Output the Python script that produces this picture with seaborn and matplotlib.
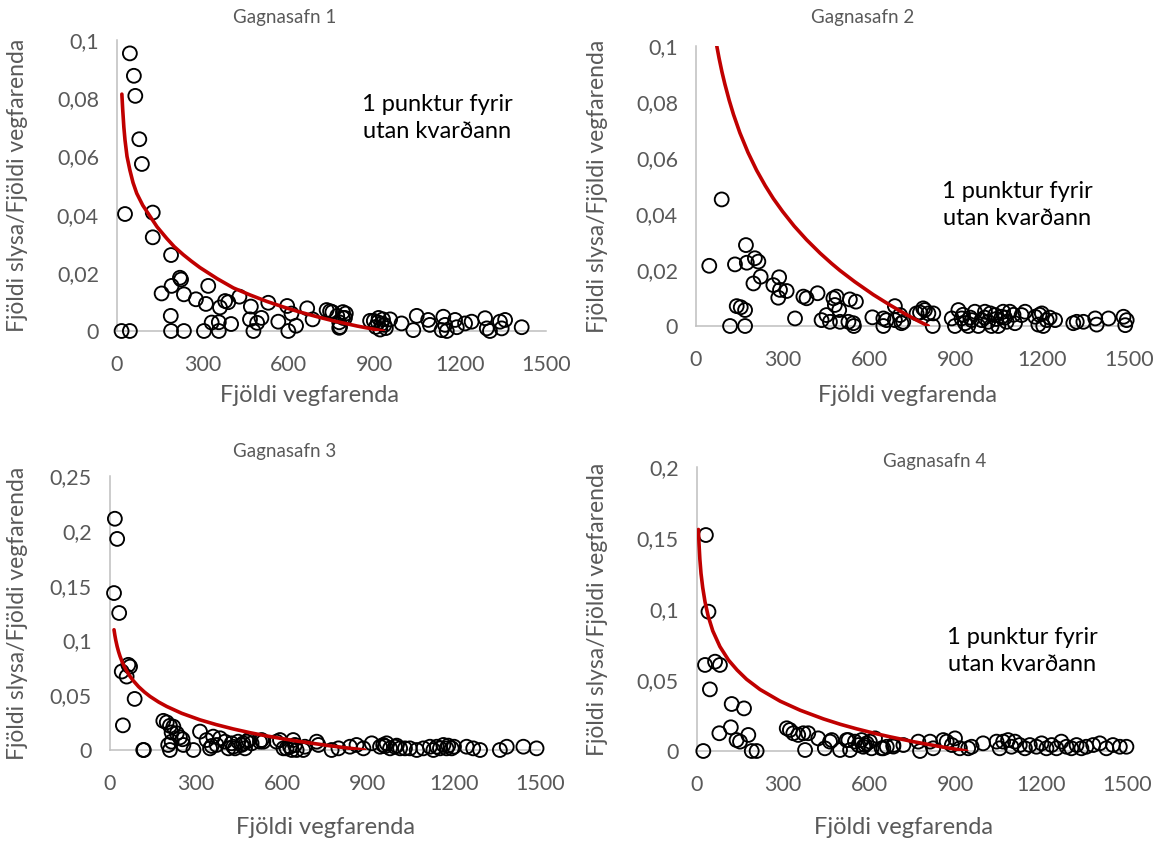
import numpy as np
import pandas as pd
import matplotlib
matplotlib.use("Agg")
import matplotlib.pyplot as plt
import seaborn as sns

# ---------------- data ----------------
x1 = [45, 59, 64, 78, 87, 28, 125, 125, 189, 220, 224, 191, 156, 234, 319, 276, 311, 378, 389, 428,
      360, 468, 529, 595, 665, 733, 188, 331, 356, 399, 465, 490, 505, 564, 626, 684, 777, 790, 800,
      16, 45, 189, 234, 304, 356, 477, 599, 777, 745, 770, 610,
      753, 790, 797, 780, 885, 898, 912, 905, 920, 935, 955, 995, 1048, 1036, 1088, 1094, 1141, 1147,
      1153, 1135, 1182, 1188, 1217, 1240, 1287, 1293, 1304, 1339, 1345, 1357, 1415, 925, 930, 915, 940]
y1 = [0.0954, 0.0877, 0.0808, 0.0659, 0.0574, 0.0402, 0.0407, 0.0322, 0.0261, 0.0183, 0.0177, 0.0155,
      0.0129, 0.0126, 0.0155, 0.0109, 0.0093, 0.0103, 0.0099, 0.0118, 0.0081, 0.0084, 0.0097, 0.0086,
      0.0078, 0.0072, 0.0052, 0.0029, 0.0030, 0.0024, 0.0040, 0.0028, 0.0045, 0.0032, 0.0018, 0.0040,
      0.0030, 0.0045, 0.0060, 0, 0, 0, 0, 0, 0, 0, 0, 0.0011, 0.0068, 0.0052, 0.0060,
      0.0065, 0.0065, 0.0045, 0.0014, 0.0035, 0.0035, 0.0030, 0.0014, 0.0005, 0.0021, 0.0040, 0.0026,
      0.0052, 0.0003, 0.0038, 0.0021, 0.0049, 0.0021, 0, 0.0003, 0.0038, 0.0013, 0.0026, 0.0032,
      0.0044, 0.0009, 0, 0.0032, 0.0009, 0.0038, 0.0013, 0.0025, 0.0040, 0.0045, 0.0010]
trend1_x = [17, 20, 24, 28, 35, 45, 56, 69, 90, 115, 140, 174, 200, 232, 260, 290, 350, 407, 465,
            523, 580, 640, 700, 756, 840, 931]
trend1_y = [0.0814, 0.0760, 0.0700, 0.0656, 0.0600, 0.0553, 0.0510, 0.0473, 0.0432, 0.0395, 0.0358,
            0.0318, 0.0290, 0.0262, 0.0240, 0.0218, 0.0180, 0.0148, 0.0124, 0.0102, 0.0083, 0.0065,
            0.0049, 0.0035, 0.0017, 0.0]

x2 = [89, 46, 135, 173, 176, 204, 216, 224, 199, 268, 288, 291, 314, 285, 372, 383, 421, 141, 155, 170,
      118, 170, 343, 435, 452, 464, 476, 487, 481, 496, 499, 528, 545, 547, 533, 554, 611, 649, 660, 649,
      689, 689, 712, 707, 718, 764, 776, 787, 793, 805, 822, 820,
      886, 897, 909, 920, 932, 943, 955, 966, 978, 989, 1001, 1012, 1024, 1036, 1047, 1059, 1064, 1076,
      1087, 1105, 1128, 1140, 1175, 1186, 1198, 1203, 1215, 1244, 1307, 1319, 1342, 1383, 1388, 1429,
      1481, 1492, 1487, 925, 950, 1000, 1020, 1040, 1070, 1100, 1190, 1225]
y2 = [0.0452, 0.0215, 0.0220, 0.0289, 0.0226, 0.0242, 0.0230, 0.0176, 0.0152, 0.0146, 0.0174, 0.0129,
      0.0125, 0.0101, 0.0105, 0.0099, 0.0117, 0.0071, 0.0067, 0.0057, 0, 0, 0.0027, 0.0021, 0.0039,
      0.0015, 0.0099, 0.0105, 0.0075, 0.0057, 0.0015, 0.0015, 0.0010, 0, 0.0095, 0.0087, 0.0031, 0.0027,
      0.0021, 0, 0.0071, 0.0021, 0.0010, 0.0039, 0.0015, 0.0045, 0.0048, 0.0063, 0.0057, 0.0045, 0.0045, 0,
      0.0027, 0, 0.0057, 0.0027, 0.0010, 0, 0.0021, 0.0051, 0, 0.0021, 0.0051, 0.0015, 0, 0.0039, 0,
      0.0033, 0.0051, 0.0015, 0.0051, 0.0010, 0.0039, 0.0051, 0.0033, 0.0005, 0.0045, 0, 0.0021, 0.0021,
      0.0010, 0.0015, 0.0015, 0.0027, 0.0005, 0.0027, 0.0033, 0.0021, 0.0003, 0.0040, 0.0030, 0.0030,
      0.0045, 0.0025, 0.0030, 0.0040, 0.0040, 0.0030]
trend2_x = [72, 80, 90, 100, 115, 130, 152, 180, 210, 240, 268, 300, 340, 383, 430, 470, 499, 550,
            614, 670, 730, 770, 805]
trend2_y = [0.1000, 0.0956, 0.0907, 0.0864, 0.0806, 0.0755, 0.0690, 0.0620, 0.0556, 0.0501, 0.0455,
            0.0409, 0.0357, 0.0308, 0.0260, 0.0223, 0.0198, 0.0158, 0.0112, 0.0076, 0.0040, 0.0018, 0.0]

x3 = [17, 25, 14, 32, 64, 70, 41, 58, 86, 45, 116, 118, 186, 198, 209, 221, 215, 233, 244, 253, 256, 203,
      215, 209, 291, 314, 337, 360, 372, 349, 384, 401, 413, 424, 436, 447, 459, 471, 477, 494, 529, 581,
      605, 634, 645, 355, 430, 465, 483, 523, 535, 628,
      593, 616, 639, 651, 674, 680, 721, 727, 773, 797, 837, 860, 884, 913, 942, 953, 965, 977, 994, 1012,
      1029, 1046, 1070, 1093, 1116, 1128, 1151, 1163, 1174, 1192, 1244, 1267, 1291, 1360, 1384, 1442, 1488,
      960, 1000, 1140, 1180, 1200]
y3 = [0.211, 0.1926, 0.1432, 0.125, 0.0777, 0.0761, 0.0716, 0.067, 0.0466, 0.0225, 0, 0, 0.0266, 0.0252,
      0.0221, 0.0213, 0.0160, 0.0152, 0.0115, 0.0098, 0.0046, 0.0046, 0.0076, 0, 0, 0.0168, 0.0091, 0.0122,
      0.0046, 0.0015, 0.0107, 0.0076, 0.0015, 0.0061, 0.0015, 0.0076, 0.0046, 0.0015, 0.0076, 0.0061,
      0.0091, 0.0076, 0.0015, 0, 0.0046, 0.0037, 0.0030, 0.0061, 0.0091, 0.0076, 0.0076, 0.0030,
      0.0091, 0.0015, 0.0091, 0, 0, 0.0030, 0.0076, 0.0046, 0, 0.0015, 0.0030, 0.0046, 0.0015, 0.0061,
      0.0030, 0.0046, 0.0061, 0.0015, 0.0030, 0.0015, 0.0015, 0.0015, 0, 0.0015, 0.0030, 0, 0.0015,
      0.0046, 0.0015, 0.0015, 0.0030, 0.0015, 0, 0, 0.0030, 0.0030, 0.0015,
      0.0035, 0.0040, 0.0030, 0.0040, 0.0030]
trend3_x = [14, 17, 20, 25, 30, 35, 42, 50, 60, 70, 81, 100, 120, 140, 170, 198, 250, 314, 370, 430,
            490, 547, 600, 651, 709, 760, 826, 889]
trend3_y = [0.1097, 0.1046, 0.1003, 0.0944, 0.0896, 0.0855, 0.0807, 0.0761, 0.0713, 0.0672, 0.0633,
            0.0577, 0.0529, 0.0488, 0.0437, 0.0397, 0.0335, 0.0275, 0.0232, 0.0192, 0.0157, 0.0128,
            0.0104, 0.0082, 0.0060, 0.0041, 0.0019, 0.0]

x4 = [31, 40, 28, 63, 80, 45, 121, 164, 78, 118, 138, 150, 179, 22, 191, 208,
      313, 324, 336, 353, 371, 388, 377, 423, 446, 464, 499, 528, 534, 551, 563, 574, 580, 592, 603, 609,
      621, 644, 662, 685, 470, 522, 586,
      650, 685, 720, 772, 778, 813, 824, 859, 871, 889, 900, 917, 946, 958, 998, 1045, 1056, 1068, 1085,
      1097, 1109, 1126, 1144, 1161, 1184, 1202, 1219, 1237, 1254, 1271, 1289, 1306, 1324, 1341, 1358,
      1382, 1405, 1428, 1451, 1475, 1498]
y4 = [0.1521, 0.0981, 0.0606, 0.0629, 0.0606, 0.0434, 0.0331, 0.0300, 0.0125, 0.0167, 0.0077, 0.0066,
      0.0113, 0, 0, 0,
      0.0160, 0.0148, 0.0125, 0.0113, 0.0125, 0.0125, 0.0007, 0.0089, 0.0019, 0.0066, 0.0007, 0.0077,
      0.0007, 0.0066, 0.0042, 0.0077, 0.0030, 0.0054, 0.0066, 0.0019, 0.0089, 0.0019, 0.0030, 0.0042,
      0.0077, 0.0077, 0.0042,
      0.0019, 0.0031, 0.0042, 0.0066, 0, 0.0066, 0.0019, 0.0077, 0.0066, 0.0042, 0.0089, 0.0019, 0.0019,
      0.0030, 0.0054, 0.0066, 0.0019, 0.0066, 0.0077, 0.0030, 0.0066, 0.0042, 0.0019, 0.0042, 0.0030,
      0.0054, 0.0019, 0.0042, 0.0019, 0.0066, 0.0030, 0.0019, 0.0042, 0.0019, 0.0030, 0.0042, 0.0054,
      0.0019, 0.0042, 0.0030, 0.0030]
trend4_x = [5, 7, 10, 14, 20, 28, 39, 55, 80, 110, 140, 173, 220, 290, 360, 441, 500, 557, 620, 673,
            754, 810, 871, 941]
trend4_y = [0.156, 0.146, 0.135, 0.125, 0.115, 0.105, 0.095, 0.0846, 0.0735, 0.0640, 0.0570, 0.0505,
            0.0433, 0.0351, 0.0287, 0.0226, 0.0188, 0.0156, 0.0124, 0.0100, 0.0066, 0.0045, 0.0023, 0.0]

titles = ["Gagnasafn 1", "Gagnasafn 2", "Gagnasafn 3", "Gagnasafn 4"]
x_ticks = [0, 300, 600, 900, 1200, 1500]
x_ticklabels = ["0", "300", "600", "900", "1200", "1500"]
y_ticks_a = [0, 0.02, 0.04, 0.06, 0.08, 0.1]
y_ticklabels_a = ["0", "0,02", "0,04", "0,06", "0,08", "0,1"]
y_ticks_c = [0, 0.05, 0.1, 0.15, 0.2, 0.25]
y_ticklabels_c = ["0", "0,05", "0,1", "0,15", "0,2", "0,25"]
y_ticks_d = [0, 0.05, 0.1, 0.15, 0.2]
y_ticklabels_d = ["0", "0,05", "0,1", "0,15", "0,2"]
xlabel = "Fjöldi vegfarenda"
ylabel = "Fjöldi slysa/Fjöldi vegfarenda"
note = "1 punktur fyrir\nutan kvarðann"

# ---------------- style ----------------
sns.set_theme(style="white")
plt.rcParams["font.family"] = ["Lato", "DejaVu Sans"]

W, H = 1160, 841
fig = plt.figure(figsize=(W / 100, H / 100), dpi=100)
fig.patch.set_facecolor("white")

GRAY = "#595959"
SPINE = "#BFBFBF"
RED = "#C00000"


def rect(l, r, t, b):
    return [l / W, 1 - b / H, (r - l) / W, (b - t) / H]


def ftext(x, y, s, **kw):
    fig.text(x / W, 1 - y / H, s, ha="center", va="center", **kw)


panels = [
    dict(x=x1, y=y1, tx=trend1_x, ty=trend1_y, box=(117, 546, 40, 331), ymax=0.1,
         yt=y_ticks_a, ytl=y_ticklabels_a),
    dict(x=x2, y=y2, tx=trend2_x, ty=trend2_y, box=(696, 1129, 46, 326), ymax=0.1,
         yt=y_ticks_a, ytl=y_ticklabels_a),
    dict(x=x3, y=y3, tx=trend3_x, ty=trend3_y, box=(110, 540, 476, 750), ymax=0.25,
         yt=y_ticks_c, ytl=y_ticklabels_c),
    dict(x=x4, y=y4, tx=trend4_x, ty=trend4_y, box=(697, 1127, 467, 751), ymax=0.2,
         yt=y_ticks_d, ytl=y_ticklabels_d),
]

for p in panels:
    ax = fig.add_axes(rect(*p["box"]))
    df = pd.DataFrame({"x": p["x"], "y": p["y"]})
    sns.scatterplot(data=df, x="x", y="y", ax=ax, marker="o", s=100,
                    facecolor="none", edgecolor="black", linewidth=1.35, zorder=3)
    ax.collections[-1].set_clip_on(False)
    tdf = pd.DataFrame({"x": p["tx"], "y": p["ty"]})
    sns.lineplot(data=tdf, x="x", y="y", ax=ax, color=RED, linewidth=2.6,
                 estimator=None, sort=False, zorder=4)
    ax.lines[-1].set_solid_joinstyle("round")
    ax.set_xlim(0, 1500)
    ax.set_ylim(0, p["ymax"])
    ax.set_xticks(x_ticks)
    ax.set_xticklabels(x_ticklabels)
    ax.set_yticks(p["yt"])
    ax.set_yticklabels(p["ytl"])
    ax.tick_params(axis="both", length=0, labelsize=15.5, colors=GRAY)
    ax.tick_params(axis="x", pad=17)
    ax.tick_params(axis="y", pad=13)
    ax.set_xlabel("")
    ax.set_ylabel("")
    for s in ["top", "right"]:
        ax.spines[s].set_visible(False)
    for s in ["left", "bottom"]:
        ax.spines[s].set_color(SPINE)
        ax.spines[s].set_linewidth(1.1)
    ax.set_facecolor("none")

# titles
ftext(285, 18, titles[0], fontsize=13.5, color=GRAY)
ftext(863, 18, titles[1], fontsize=13.5, color=GRAY)
ftext(285, 452, titles[2], fontsize=13.5, color=GRAY)
ftext(935, 462, titles[3], fontsize=13.5, color=GRAY)

# x labels
ftext(310, 395, xlabel, fontsize=17, color=GRAY)
ftext(907, 395, xlabel, fontsize=17, color=GRAY)
ftext(325, 827, xlabel, fontsize=17, color=GRAY)
ftext(903, 828, xlabel, fontsize=17, color=GRAY)

# y labels
ftext(18, 185, ylabel, fontsize=16.5, color=GRAY, rotation=90)
ftext(598, 186, ylabel, fontsize=16.5, color=GRAY, rotation=90)
ftext(18, 613, ylabel, fontsize=16.5, color=GRAY, rotation=90)
ftext(597, 609, ylabel, fontsize=16.5, color=GRAY, rotation=90)

# notes
ftext(437, 118, note, fontsize=17, color="black", linespacing=1.3)
ftext(1017, 205, note, fontsize=17, color="black", linespacing=1.3)
ftext(1022, 651, note, fontsize=17, color="black", linespacing=1.3)

fig.savefig("out.png", dpi=100, facecolor="white")
